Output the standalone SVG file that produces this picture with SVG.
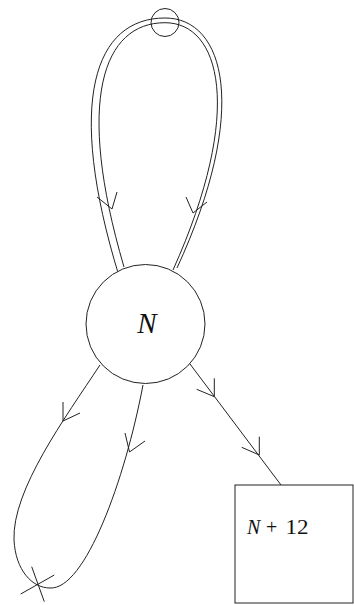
<svg xmlns="http://www.w3.org/2000/svg" width="354" height="605" viewBox="0 0 354 605">
<style>
.ln{fill:none;stroke:#222;stroke-width:1}
.nd{fill:#fff;stroke:#222;stroke-width:1}
.tx{font-family:"Liberation Serif","DejaVu Serif",serif;fill:#111}
.it{font-style:italic}
</style>
<rect width="354" height="605" fill="#fff"/>
<g id="connectors">
  <g id="double-loop">
    <path class="ln" d="M119,276 C65,100 95,18 165,18 C225,18 250,110 177,268"/>
    <path class="ln" d="M124,267 C75,100 103,22.7 165,22.7 C220,22.7 245,110 173,270"/>
    <polyline class="ln" points="97,197 112,209 117,192"/>
    <polyline class="ln" points="186,197 193,213 207,202"/>
  </g>
  <g id="lower-loop">
    <path class="ln" d="M100,365 C65,418 12,490 14,540 C15.5,570 32,588 50,588 C85,590 125,480 143,385"/>
    <polyline class="ln" points="63,402 63,421 80,413"/>
    <polyline class="ln" points="125,433 129.5,452 145,441"/>
    <line class="ln" x1="31.7" y1="566.7" x2="44.3" y2="601.7"/>
    <line class="ln" x1="20.7" y1="594" x2="54.3" y2="575"/>
  </g>
  <g id="edge-to-box">
    <line class="ln" x1="190" y1="364" x2="281" y2="485"/>
    <polyline class="ln" points="214.3,378.3 214.3,396.7 196.7,389.3"/>
    <polyline class="ln" points="259.3,436.7 259.3,455 241.7,447.3"/>
  </g>
</g>
<g id="vertex-top">
  <circle class="nd" cx="165" cy="22.5" r="14" fill="none" style="fill:none"/>
</g>
<g id="node-N">
  <circle class="nd" cx="145.5" cy="324" r="59.5"/>
  <text class="tx it" x="147" y="333" font-size="29" text-anchor="middle">N</text>
</g>
<g id="node-N12">
  <rect class="nd" x="235" y="485" width="118" height="118"/>
  <text class="tx it" x="247" y="533.5" font-size="20">N</text>
  <text class="tx" x="266" y="533.5" font-size="20">+</text>
  <text class="tx" x="285.5" y="533.5" font-size="20" textLength="23" lengthAdjust="spacingAndGlyphs">12</text>
</g>
</svg>
